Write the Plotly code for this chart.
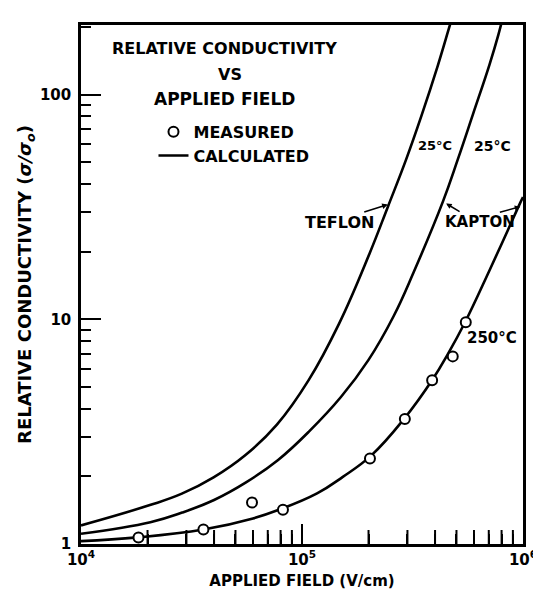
import plotly.graph_objects as go

# ---- data (field in V/cm, relative conductivity sigma/sigma0)
teflon_field = [1.0e4, 2.05e4, 2.86e4, 3.98e4, 5.55e4, 7.7e4, 1.07e5, 1.47e5, 2.02e5, 2.45e5, 2.96e5, 3.47e5, 4.12e5, 4.6e5, 4.75e5]
teflon_sigma = [1.21, 1.49, 1.675, 1.98, 2.49, 3.40, 5.35, 9.55, 19.6, 31.8, 51.5, 80.4, 135, 194, 216]

kapton25_field = [1.0e4, 2.06e4, 2.87e4, 4.0e4, 5.58e4, 7.77e4, 1.08e5, 1.5e5, 2.0e5, 2.6e5, 3.2e5, 4.34e5, 5.07e5, 5.93e5, 7.06e5, 7.74e5, 8.05e5]
kapton25_sigma = [1.11, 1.25, 1.38, 1.57, 1.88, 2.36, 3.18, 4.51, 6.6, 10.35, 16.2, 33.4, 51.5, 81.5, 136.5, 185, 215]

kapton250_field = [1.0e4, 1.8e4, 3.58e4, 6.0e4, 7.86e4, 1.17e5, 1.53e5, 2.06e5, 2.9e5, 3.89e5, 4.57e5, 5.46e5, 7.05e5, 8.55e5, 9.7e5, 1.0e6]
kapton250_sigma = [1.03, 1.07, 1.16, 1.30, 1.42, 1.68, 1.99, 2.48, 3.61, 5.38, 7.0, 9.68, 16.5, 25.0, 32.9, 35.0]

measured_field = [1.82e4, 3.58e4, 5.94e4, 8.2e4, 2.03e5, 2.92e5, 3.88e5, 4.81e5, 5.51e5]
measured_sigma = [1.07, 1.16, 1.53, 1.42, 2.40, 3.60, 5.36, 6.84, 9.7]

x_decades = [1e4, 1e5, 1e6]
x_decade_text = ["10<sup>4</sup>", "10<sup>5</sup>", "10<sup>6</sup>"]
x_minor_vals = [2e4, 3e4, 4e4, 5e4, 6e4, 7e4, 8e4, 9e4, 2e5, 3e5, 4e5, 5e5, 6e5, 7e5, 8e5, 9e5]
y_tick_vals = [1, 10, 100]
y_tick_text = ["1", "10", "100"]
y_minor_vals = [2, 3, 4, 5, 6, 7, 8, 9, 20, 30, 40, 50, 60, 70, 80, 90, 200]

# all x tick positions (labels only on the decades)
x_all_vals = sorted(x_decades + x_minor_vals)
x_all_text = [x_decade_text[x_decades.index(v)] if v in x_decades else "" for v in x_all_vals]

FONT = "DejaVu Sans"
line_style = dict(color="black", width=2.6, shape="spline", smoothing=1.2)

fig = go.Figure()
fig.add_trace(go.Scatter(x=teflon_field, y=teflon_sigma, mode="lines", line=line_style,
                         name="CALCULATED", legendgroup="calc", legendrank=2, showlegend=True))
fig.add_trace(go.Scatter(x=kapton25_field, y=kapton25_sigma, mode="lines", line=line_style,
                         name="CALCULATED", legendgroup="calc", showlegend=False))
fig.add_trace(go.Scatter(x=kapton250_field, y=kapton250_sigma, mode="lines", line=line_style,
                         name="CALCULATED", legendgroup="calc", showlegend=False))
# measured points use the overlaid x axis (same log scale) that carries the long decade ticks
fig.add_trace(go.Scatter(x=measured_field, y=measured_sigma, mode="markers", xaxis="x2",
                         marker=dict(symbol="circle", size=10, color="white",
                                     line=dict(color="black", width=2)),
                         name="MEASURED", legendrank=1))
# intermediate x tick marks along the bottom axis (half of each mark is clipped by the frame)
fig.add_trace(go.Scatter(x=x_minor_vals, y=[y_tick_vals[0]] * len(x_minor_vals), mode="markers",
                         marker=dict(symbol="line-ns", size=20, color="black",
                                     line=dict(color="black", width=2)),
                         cliponaxis=True, hoverinfo="skip", showlegend=False, name="x minor ticks"))


def ann(text, x, y, size=15):
    fig.add_annotation(text=text, x=x, y=y, xref="paper", yref="paper", showarrow=False,
                       xanchor="center", yanchor="middle",
                       font=dict(family=FONT, size=size, color="black", weight="bold"))


ann("RELATIVE CONDUCTIVITY", 0.324, 0.955, size=16)
ann("VS", 0.337, 0.904, size=16)
ann("APPLIED FIELD", 0.325, 0.858, size=17)
ann("25°C", 0.802, 0.768, size=13)
ann("25°C", 0.930, 0.766, size=14)
ann("TEFLON", 0.585, 0.619, size=16)
ann("KAPTON", 0.902, 0.620)
ann("250°C", 0.930, 0.396)

for hx, hy, tx, ty in [(0.694, 0.654, -25, 8), (0.826, 0.656, 15, 9), (0.994, 0.650, -22, 6)]:
    fig.add_annotation(text="", x=hx, y=hy, xref="paper", yref="paper", showarrow=True,
                       ax=tx, ay=ty, arrowhead=2, arrowsize=0.7, arrowwidth=1.6, arrowcolor="black")

tickfont = dict(family=FONT, size=15, color="black", weight="bold")

fig.update_layout(
    xaxis=dict(type="log", range=[4, 6], showgrid=False, zeroline=False, showline=True,
               linecolor="black", linewidth=2.5, mirror=True,
               tickmode="array", tickvals=x_all_vals, ticktext=x_all_text,
               ticks="inside", ticklen=10, tickwidth=2, tickcolor="black", tickfont=tickfont,
               title=dict(text="APPLIED FIELD (V/cm)", standoff=8,
                          font=dict(family=FONT, size=15, color="black", weight="bold"))),
    xaxis2=dict(type="log", range=[4, 6], overlaying="x", anchor="y", side="bottom",
                tickmode="array", tickvals=x_decades, ticks="inside", ticklen=20, tickwidth=2,
                tickcolor="black", showticklabels=False, showline=False, showgrid=False,
                zeroline=False),
    yaxis=dict(type="log", range=[0, 2.31], showgrid=False, zeroline=False, showline=True,
               linecolor="black", linewidth=2.5, mirror=True,
               tickmode="array", tickvals=y_tick_vals, ticktext=y_tick_text,
               ticks="inside", ticklen=20, tickwidth=2, tickcolor="black", tickfont=tickfont,
               ticklabelstandoff=4,
               minor=dict(tickmode="array", tickvals=y_minor_vals, ticks="inside", ticklen=10,
                          tickwidth=2, tickcolor="black", showgrid=False),
               title=dict(text="RELATIVE CONDUCTIVITY (<i>σ/σ<sub>o</sub></i>)", standoff=4,
                          font=dict(family=FONT, size=18, color="black", weight="bold"))),
)

fig.update_layout(
    width=541, height=595,
    margin=dict(l=73, r=12, t=17, b=59),
    paper_bgcolor="white", plot_bgcolor="white",
    showlegend=True,
    legend=dict(x=0.164, y=0.827, xanchor="left", yanchor="top", bgcolor="rgba(0,0,0,0)",
                itemwidth=30, tracegroupgap=0,
                font=dict(family=FONT, size=16, color="black", weight="bold")),
)

fig.write_html("out.html")
